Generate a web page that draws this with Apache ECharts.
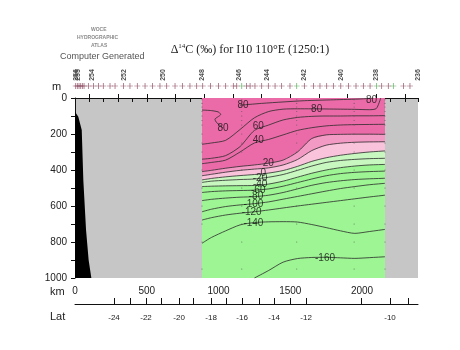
<!DOCTYPE html>
<html><head><meta charset="utf-8">
<script src="https://cdn.jsdelivr.net/npm/echarts@6/dist/echarts.min.js"></script>
<style>html,body{margin:0;padding:0;background:#fff}#c{width:460px;height:350px}</style>
</head><body><div id="c"></div>
<script>
// Section extent (km along track) and depth range (m)
const KM_MAX = 2390;
const DEPTH_MAX = 1000;

// Distance ticks / labels
const kmLabels = [0, 500, 1000, 1500, 2000];
const depthLabels = [0, 200, 400, 600, 800, 1000];

// Latitude positions along the track
const latKm = [272, 383, 495, 599, 725, 822, 948, 1052, 1164, 1282, 1387, 1498, 1610, 1993, 2195, 2321];
const latDeg = [-24, -23, -22, -21, -20, -19, -18, -17, -16, -15, -14, -13, -12, -11, -10, -9];
const latLabelled = [-24, -22, -20, -18, -16, -14, -12, -10];

// Station positions (km) and station numbers
const stationKm = [5, 16, 28, 40, 51, 63, 93, 128, 163, 197, 244, 279, 337, 383, 434, 488, 541, 592, 639, 697, 748, 801, 848, 890, 945, 999, 1050, 1103, 1127, 1162, 1196, 1220, 1254, 1301, 1347, 1394, 1440, 1498, 1545, 1598, 1661, 1707, 1754, 1800, 1852, 1905, 1958, 2009, 2056, 2102, 2137, 2183, 2218, 2288, 2334, 2392];
const stationFlagged = [1162, 1545, 2102, 2218];
const namedStationKm = [5, 21, 116, 341, 613, 885, 1143, 1338, 1596, 1854, 2098, 2390];
const namedStation = ['256', '255', '254', '252', '250', '248', '246', '244', '242', '240', '238', '236'];

// Bottom topography near the coast
const bottomKm = [0, 23, 47, 58, 77, 95, 114];
const bottomDepth = [76, 104, 178, 456, 733, 900, 1000];

// Gridded section where Δ14C is mapped
const sectionKm = [885, 950, 1050, 1150, 1250, 1350, 1450, 1550, 1650, 1750, 1850, 1950, 2050, 2160];

// Isoline depths (m) at each sectionKm position
const iso60 = [340, 335, 320, 270, 180, 150, 122, 108, 102, 100, 100, 99, 99, 98];
const iso40 = [365, 358, 345, 300, 250, 230, 205, 180, 165, 155, 150, 148, 147, 146];
const iso20 = [409, 402, 390, 380, 372, 362, 345, 300, 225, 205, 202, 201, 201, 202];
const iso10 = [432, 424, 412, 402, 395, 388, 372, 342, 292, 262, 251, 246, 244, 243];
const iso0 = [455, 447, 438, 431, 425, 417, 403, 380, 352, 332, 318, 308, 300, 294];
const isoM20 = [469, 462, 457, 453, 450, 440, 425, 402, 378, 358, 347, 341, 337, 335];
const isoM40 = [492, 490, 488, 487, 486, 478, 462, 440, 418, 400, 387, 378, 372, 369];
const isoM60 = [525, 520, 516, 514, 512, 505, 490, 470, 450, 432, 420, 413, 409, 406];
const isoM80 = [570, 563, 556, 551, 548, 540, 525, 505, 485, 470, 460, 453, 449, 446];
const isoM100 = [632, 618, 603, 594, 587, 577, 562, 547, 532, 517, 503, 492, 482, 474];
const isoM120 = [678, 665, 650, 640, 632, 622, 611, 600, 590, 580, 570, 560, 550, 540];
const isoM140 = [807, 775, 738, 705, 692, 688, 687, 689, 703, 720, 738, 752, 742, 730];
const isoM160 = [1000, 1000, 1000, 1000, 1000, 958, 912, 892, 886, 885, 888, 891, 887, 882];

// The 80 isoline bends back on itself, so it keeps its own positions
const iso80aKm = [885, 950, 1050, 1150, 1250, 1350, 1450, 1550, 1650, 1750, 1850, 1950, 2050, 2100, 2130];
const iso80aDepth = [257, 250, 235, 175, 110, 75, 62, 60, 60, 61, 62, 63, 65, 58, 0];
const iso80bKm = [1150, 1300, 1450, 1600, 1800, 2000, 2080];
const iso80bDepth = [40, 30, 22, 15, 10, 5, 0];
const iso80cKm = [885, 950, 1000, 1015, 995, 975, 985, 1010, 1031];
const iso80cDepth = [67, 70, 78, 92, 105, 118, 135, 152, 167];

// Isoline labels: [km, depth, value]
const isoLabels = [
  [1171, 39, '80'], [1031, 167, '80'], [1684, 61, '80'], [2066, 12, '80'],
  [1277, 159, '60'], [1277, 237, '40'], [1347, 363, '20'], [1312, 418, '0'],
  [1289, 446, '-20'], [1290, 480, '-40'], [1277, 511, '-60'], [1261, 548, '-80'],
  [1243, 589, '-100'], [1231, 635, '-120'], [1243, 696, '-140'], [1742, 891, '-160']
];

// Bottle sample positions
const sampleKm = [885, 1162, 1545, 1945, 2160];
const sampleDepth = [10, 30, 50, 75, 100, 125, 150, 200, 250, 300, 400, 500, 600, 700, 800, 950];

const chart = echarts.init(document.getElementById('c'), null, {renderer: 'canvas'});

const FONT = 'Liberation Sans';
const PINK = '#eb6ba8';
const bands = [
  {iso: iso20, color: '#f39ac4'},
  {iso: iso10, color: '#f8c3db'},
  {iso: iso0, color: '#c8f7c0'},
  {iso: isoM40, color: '#9ef594'}
];

function isoSeries(kmArr, depthArr) {
  let start = 0;
  depthArr.forEach((d, i) => { if (d >= DEPTH_MAX) start = i; });
  const pts = kmArr.map((k, i) => [k, depthArr[i]]).slice(start);
  return {
    type: 'line', xAxisIndex: 0, yAxisIndex: 0, data: pts, showSymbol: false,
    smooth: 0.25, silent: true, z: 4, animation: false,
    lineStyle: {color: '#2b2b2b', width: 0.8}
  };
}

const isoList = [iso60, iso40, iso20, iso10, iso0, isoM20, isoM40, isoM60, isoM80, isoM100, isoM120, isoM140, isoM160];

const samples = [];
sampleKm.forEach(k => sampleDepth.forEach(d => samples.push([k, d])));

const latMap = {};
latKm.forEach((k, i) => { latMap[k] = latDeg[i]; });
const latLabelKm = latKm.filter((k, i) => latLabelled.indexOf(latDeg[i]) >= 0);

const option = {
  animation: false,
  backgroundColor: '#fff',
  title: {
    text: '{a|Δ}{s|14}{a|C (‰) for I10 110°E (1250:1)}',
    left: 245, top: 38, textAlign: 'center',
    textStyle: {
      fontWeight: 'normal',
      rich: {
        a: {fontFamily: 'Liberation Serif', fontSize: 12, fontWeight: 'normal', color: '#222'},
        s: {fontFamily: 'Liberation Serif', fontSize: 7, fontWeight: 'normal', color: '#222', verticalAlign: 'top', padding: [0, 0, 6, 0]}
      }
    }
  },
  graphic: [
    {type: 'text', left: 91, top: 27, style: {text: 'WOCE', fontSize: 5, fontWeight: 'bold', fill: '#8a8a8a', fontFamily: FONT}},
    {type: 'text', left: 77, top: 35, style: {text: 'HYDROGRAPHIC', fontSize: 5, fontWeight: 'bold', fill: '#8a8a8a', fontFamily: FONT}},
    {type: 'text', left: 91, top: 43, style: {text: 'ATLAS', fontSize: 5, fontWeight: 'bold', fill: '#8a8a8a', fontFamily: FONT}},
    {type: 'text', left: 60, top: 52, style: {text: 'Computer Generated', fontSize: 9, fill: '#555', fontFamily: FONT}},
    {type: 'text', left: 52, top: 81, style: {text: 'm', fontSize: 11, fill: '#222', fontFamily: FONT}},
    {type: 'text', left: 50, top: 286, style: {text: 'km', fontSize: 11, fill: '#222', fontFamily: FONT}},
    {type: 'text', left: 50, top: 311, style: {text: 'Lat', fontSize: 11, fill: '#222', fontFamily: FONT}}
  ],
  grid: [
    {left: 75, top: 98, width: 343, height: 180, show: true, backgroundColor: '#c6c6c6', borderWidth: 0},
    {left: 75, top: 303, width: 343, height: 1},
    {left: 75, top: 85.5, width: 343, height: 1},
    {left: 75, top: 74.5, width: 343, height: 1}
  ],
  xAxis: [
    {gridIndex: 0, type: 'value', min: 0, max: KM_MAX, interval: 100, position: 'bottom',
     axisLine: {lineStyle: {color: '#111', width: 1}},
     axisTick: {length: 4, lineStyle: {color: '#111'}},
     axisLabel: {fontFamily: FONT, fontSize: 10, color: '#222', margin: 8,
       formatter: v => (kmLabels.indexOf(v) >= 0 ? String(v) : '')},
     splitLine: {show: false}},
    {gridIndex: 0, type: 'value', min: 0, max: KM_MAX, position: 'top',
     axisLine: {lineStyle: {color: '#111', width: 1}},
     axisTick: {length: 4, lineStyle: {color: '#111'}, customValues: [100, 300, 500, 700, 900, 1100, 1300, 1500, 1700, 1900, 2100, 2300]},
     axisLabel: {show: false}, splitLine: {show: false}},
    {gridIndex: 1, type: 'value', min: 0, max: KM_MAX, position: 'bottom',
     axisLine: {lineStyle: {color: '#111', width: 1}},
     axisTick: {inside: true, length: 6, lineStyle: {color: '#111'}, customValues: latKm},
     axisLabel: {fontFamily: FONT, fontSize: 8, color: '#222', margin: 10, customValues: latLabelKm,
       formatter: v => String(latMap[v])},
     splitLine: {show: false}},
    {gridIndex: 2, type: 'value', min: 0, max: KM_MAX, show: false},
    {gridIndex: 3, type: 'value', min: 0, max: KM_MAX, show: false}
  ],
  yAxis: [
    {gridIndex: 0, type: 'value', min: 0, max: DEPTH_MAX, interval: 100, inverse: true,
     axisLine: {show: true, lineStyle: {color: '#111', width: 1}},
     axisTick: {show: true, length: 4, lineStyle: {color: '#111'}},
     axisLabel: {fontFamily: FONT, fontSize: 10, color: '#222', margin: 8,
       formatter: v => (depthLabels.indexOf(v) >= 0 ? String(v) : '')},
     splitLine: {show: false}},
    {gridIndex: 1, type: 'value', min: 0, max: 1, show: false},
    {gridIndex: 2, type: 'value', min: 0, max: 1, show: false},
    {gridIndex: 3, type: 'value', min: 0, max: 1, show: false}
  ],
  series: [
    // Colour-filled Δ14C field
    {
      type: 'custom', xAxisIndex: 0, yAxisIndex: 0, data: [[sectionKm[0], 0]], silent: true, z: 2,
      renderItem: function (params, api) {
        const k0 = sectionKm[0], k1 = sectionKm[sectionKm.length - 1];
        const tl = api.coord([k0, 0]), br = api.coord([k1, DEPTH_MAX]);
        const children = [{type: 'rect', shape: {x: tl[0], y: tl[1], width: br[0] - tl[0], height: br[1] - tl[1]}, style: {fill: PINK}}];
        bands.forEach(b => {
          const pts = sectionKm.map((k, i) => api.coord([k, b.iso[i]]));
          pts.push(api.coord([k1, DEPTH_MAX]));
          pts.push(api.coord([k0, DEPTH_MAX]));
          children.push({type: 'polygon', shape: {points: pts, smooth: 0}, style: {fill: b.color}});
        });
        return {type: 'group', children: children};
      }
    },
    // Sea floor
    {
      type: 'custom', xAxisIndex: 0, yAxisIndex: 0, data: [[0, 0]], silent: true, z: 5,
      renderItem: function (params, api) {
        const pts = bottomKm.map((k, i) => api.coord([k, bottomDepth[i]]));
        pts.push(api.coord([0, DEPTH_MAX]));
        return {type: 'polygon', shape: {points: pts}, style: {fill: '#000'}};
      }
    },
    ...isoList.map(a => isoSeries(sectionKm, a)),
    isoSeries(iso80aKm, iso80aDepth),
    isoSeries(iso80bKm, iso80bDepth),
    isoSeries(iso80cKm, iso80cDepth),
    // Bottle samples
    {type: 'scatter', xAxisIndex: 0, yAxisIndex: 0, data: samples, symbolSize: 1.1, silent: true, z: 4,
     itemStyle: {color: '#555'}},
    // Isoline labels
    {type: 'scatter', xAxisIndex: 0, yAxisIndex: 0, data: isoLabels, symbolSize: 0, silent: true, z: 6,
     label: {show: true, position: 'inside', formatter: p => p.data[2], fontFamily: FONT, fontSize: 10, color: '#111'}},
    // Station marks
    {type: 'scatter', xAxisIndex: 3, yAxisIndex: 2, silent: true, z: 6,
     data: stationKm.map(k => ({value: [k, 0.5], itemStyle: {color: stationFlagged.indexOf(k) >= 0 ? '#3c9a3c' : '#7a2e4a'}})),
     symbol: 'path://M-0.12,-1H0.12V-0.12H1V0.12H0.12V1H-0.12V0.12H-1V-0.12H-0.12Z', symbolSize: 6},
    // Station numbers
    {type: 'scatter', xAxisIndex: 4, yAxisIndex: 3, silent: true, z: 6, symbolSize: 0,
     data: namedStationKm.map((k, i) => [k, 0.5, namedStation[i]]),
     label: {show: true, position: 'inside', rotate: 90, formatter: p => p.data[2], fontFamily: FONT, fontSize: 7, fontWeight: 'bold', color: '#222'}}
  ]
};
chart.setOption(option);
</script></body></html>
